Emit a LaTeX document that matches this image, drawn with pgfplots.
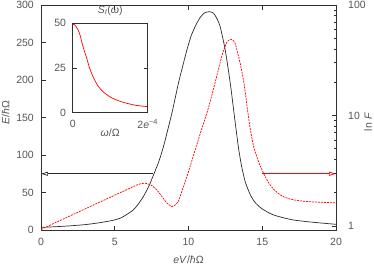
\documentclass[border=0pt]{standalone}
\usepackage{pgfplots}
\pgfplotsset{compat=1.18}
\usepackage{fontspec}
\setmainfont{Liberation Sans}
\usetikzlibrary{arrows.meta}
\definecolor{txt}{HTML}{555555}
\definecolor{frame}{HTML}{303030}
\definecolor{hframe}{HTML}{888888}
\definecolor{curveblack}{HTML}{2a2a2a}
\begin{document}
\fontsize{10.5}{12}\selectfont
\begin{tikzpicture}
\pgfplotsset{
  common/.style={
    at={(0pt,0pt)}, anchor=south west,
    scale only axis, width=295pt, height=225pt,
    xmin=0, xmax=20,
    tick align=inside,
    axis line style={frame, line width=0.8pt},
    tick style={frame, line width=0.6pt},
    major tick length=4.5pt, minor tick length=2.5pt,
    tick label style={txt, font=\fontsize{10.5}{12}\selectfont},
    label style={txt, font=\fontsize{10.5}{12}\selectfont},
    /pgf/number format/assume math mode=true,
  }
}
\begin{axis}[common,
  ymin=0, ymax=300,
  xtick={0,5,10,15,20}, ytick={0,50,...,300},
  ytick pos=left,
  x axis line style={hframe, line width=1.5pt},
  xticklabel style={anchor=center, yshift=-12.3pt},
  yticklabel style={xshift=-3.5pt},
  xlabel={\textit{eV}/\textit{ħ}Ω},
  ylabel={\textit{E}/\textit{ħ}Ω},
  xlabel style={at={(axis description cs:0.5,0)}, anchor=center, yshift=-30pt},
  ylabel style={at={(axis description cs:-0.1197,0.52)}, anchor=center},
  clip=false,
]
\addplot[curveblack, line width=0.7pt, smooth, tension=0.4] coordinates {
(0,3.6) (1,4.4) (2,5.6) (3,7.2) (4,9.8) (4.9,13) (5.4,16) (5.8,20.5)
(6.27,27) (6.61,35) (6.95,45) (7.3,58) (7.62,73) (8,92) (8.3,111) (8.6,134)
(8.9,158) (9.32,196) (9.6,218) (9.89,240) (10.2,260) (10.57,276) (10.85,285)
(11.13,290) (11.43,291) (11.7,289) (11.95,281) (12.15,271) (12.49,240)
(12.83,196) (13.06,160) (13.2,138) (13.4,108) (13.6,85) (13.85,64) (14.19,47)
(14.5,37) (14.87,30) (15.3,24.5) (15.77,20) (16.5,16) (17.13,13.3) (18,11.2)
(18.72,9.8) (19.4,8.6) (20,7.6)
};
\draw[curveblack, line width=0.7pt, -{Triangle[open, length=7pt, width=4pt]}] (axis cs:7.62,75) -- (axis cs:0,75);
\draw[red, line width=0.7pt, -{Triangle[open, length=7pt, width=4pt]}] (axis cs:15,75) -- (axis cs:20,75);
\end{axis}
\begin{axis}[common,
  ymode=log, ymin=0.92, ymax=100,
  axis y line*=right, axis x line=none,
  ytick={1,10,100}, yticklabels={1,10,100},
  yticklabel style={anchor=west, xshift=8.5pt},
  ylabel={ln \textit{F}},
  ylabel style={at={(axis description cs:1.1085,0.48)}, anchor=center},
]
\addplot[red, line width=0.7pt, dash pattern=on 2pt off 1pt, smooth, tension=0.3] coordinates {
(0,0.93) (1,1.076) (2,1.24) (3,1.43) (4,1.65) (5,1.9) (6,2.19) (6.6,2.38)
(7.06,2.44) (7.5,2.33) (7.85,2.12) (8.2,1.85) (8.5,1.63) (8.87,1.5) (9.1,1.55)
(9.32,1.68) (9.6,2.15) (9.89,2.79) (10.15,3.6) (10.45,4.88) (10.75,6.55)
(11.02,8.5) (11.36,11.8) (11.81,20) (12.27,35) (12.6,46) (12.83,49) (13.0,48)
(13.17,44.7) (13.51,29.5) (13.7,21.9) (13.85,16.2) (14.0,11.2) (14.2,7.4)
(14.41,5.25) (14.75,3.8) (15.09,3.0) (15.4,2.5) (15.77,2.15) (16.3,1.88)
(16.9,1.75) (17.7,1.68) (18.49,1.65) (20,1.62)
};
\end{axis}
\begin{axis}[
  at={(31.7pt,117.3pt)}, anchor=south west,
  scale only axis, width=75pt, height=89.4pt,
  xmin=0, xmax=2e-4, ymin=0, ymax=50,
  xtick={0,2e-4}, xticklabels={0,2\textit{e}\textsuperscript{−4}},
  scaled x ticks=false,
  ytick={0,25,50},
  tick align=inside,
  axis line style={frame, line width=0.8pt},
  tick style={frame, line width=0.6pt},
  major tick length=4pt,
  tick label style={txt, font=\fontsize{10.5}{12}\selectfont},
  label style={txt, font=\fontsize{10.5}{12}\selectfont},
  title style={txt, font=\fontsize{10.5}{12}\selectfont, at={(0.5,1)}, anchor=center, yshift=6.8pt},
  xticklabel style={anchor=center, yshift=-11.5pt},
  yticklabel style={xshift=-3pt},
  xlabel style={at={(axis description cs:0.5,0)}, anchor=center, yshift=-20.5pt},
  /pgf/number format/assume math mode=true,
  title={\textit{S}\textsubscript{\textit{I}}(\textit{ω})},
  xlabel={\textit{ω}/Ω},
  axis background/.style={fill=white},
]
\addplot[red, line width=0.7pt, smooth, tension=0.4] coordinates {
(0,49.5) (0.5e-5,49.2) (1e-5,47.8) (1.5e-5,46) (1.95e-5,43.5) (2.5e-5,39)
(3e-5,35.2) (3.73e-5,30.5) (4.5e-5,25) (5.5e-5,19.8) (6.8e-5,14.8)
(8.2e-5,11.5) (1e-4,8.8) (1.17e-4,7.1) (1.4e-4,5.5) (1.62e-4,4.4)
(1.8e-4,3.8) (2e-4,3.4)
};
\end{axis}
\pgfresetboundingbox
\path (-41pt,-36pt) rectangle (333pt,230pt);
\end{tikzpicture}
\end{document}
